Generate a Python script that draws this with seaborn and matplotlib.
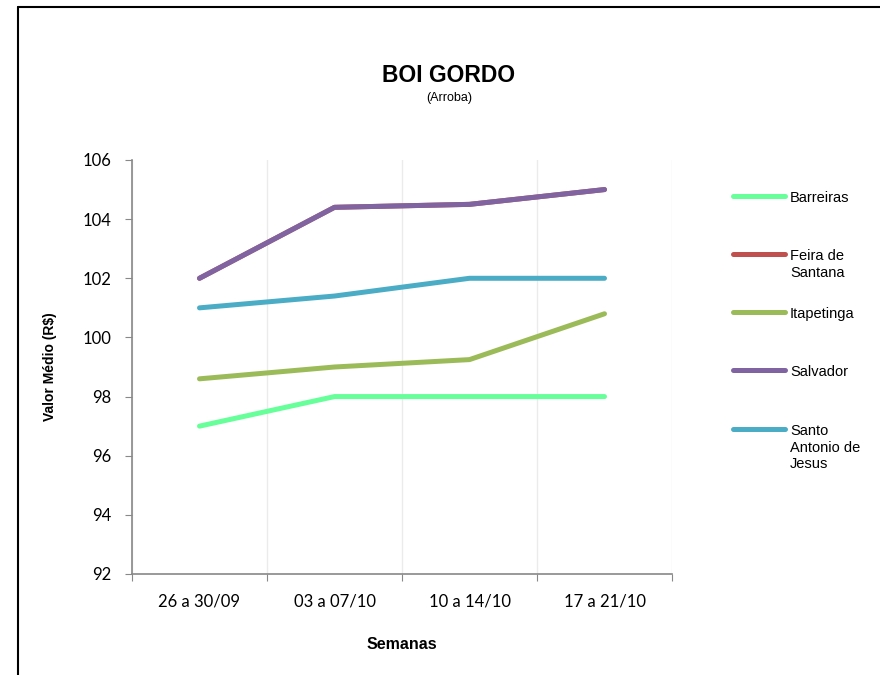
import numpy as np
import pandas as pd
import seaborn as sns
import matplotlib.pyplot as plt
from matplotlib.lines import Line2D

# Data
semanas = ["26 a 30/09", "03 a 07/10", "10 a 14/10", "17 a 21/10"]
barreiras = [97.0, 98.0, 98.0, 98.0]
feira_de_santana = [102.0, 104.4, 104.5, 105.0]
itapetinga = [98.6, 99.0, 99.25, 100.8]
salvador = [102.0, 104.4, 104.5, 105.0]
santo_antonio = [101.0, 101.4, 102.0, 102.0]

series_names = ["Barreiras", "Feira de Santana", "Itapetinga", "Salvador",
                "Santo Antonio de Jesus"]
legend_labels = ["Barreiras", "Feira de\nSantana", "Itapetinga", "Salvador",
                 "Santo\nAntonio de\nJesus"]
y_ticks = [92, 94, 96, 98, 100, 102, 104, 106]

palette = {
    "Barreiras": "#66FF99",
    "Feira de Santana": "#C0504D",
    "Itapetinga": "#9BBB59",
    "Salvador": "#8064A2",
    "Santo Antonio de Jesus": "#4BACC6",
}

df = pd.DataFrame({
    "Semana": semanas * len(series_names),
    "Valor": barreiras + feira_de_santana + itapetinga + salvador + santo_antonio,
    "Cidade": np.repeat(series_names, len(semanas)),
})

sns.set_style("white")
plt.rcParams["font.family"] = ["Liberation Sans", "DejaVu Sans"]
plt.rcParams["text.color"] = "black"
plt.rcParams["axes.labelcolor"] = "black"
plt.rcParams["xtick.color"] = "black"
plt.rcParams["ytick.color"] = "black"

fig = plt.figure(figsize=(8.8, 6.75), dpi=100)
ax = fig.add_axes([132 / 880, 101 / 675, 540 / 880, 414 / 675])

sns.lineplot(
    data=df, x="Semana", y="Valor", hue="Cidade", hue_order=series_names,
    palette=palette, linewidth=3.6, legend=False, ax=ax, sort=False,
    solid_capstyle="round", solid_joinstyle="round",
)

# Axes ranges and ticks
ax.set_xlim(-0.5, len(semanas) - 0.5)
ax.set_ylim(92, 106)
ax.set_yticks(y_ticks)
ax.set_yticklabels([str(v) for v in y_ticks], fontfamily="Lato", fontsize=12)
ax.set_xticks(np.arange(-0.5, len(semanas)), labels=[""] * (len(semanas) + 1))
ax.set_xticks(np.arange(len(semanas)), minor=True)
ax.set_xticklabels(semanas, minor=True, fontfamily="Lato", fontsize=12)
ax.tick_params(axis="x", which="minor", bottom=False, length=0, pad=14)
ax.tick_params(axis="x", which="major", bottom=True, length=5,
               color="#888888", direction="out")
ax.tick_params(axis="y", left=True, length=5, color="#888888",
               direction="out", pad=10)

# Grid and spines
ax.xaxis.grid(True, which="major", color="#EBEBEB", linewidth=1)
ax.yaxis.grid(False)
for side in ["top", "right"]:
    ax.spines[side].set_visible(False)
for side in ["left", "bottom"]:
    ax.spines[side].set_color("#888888")
    ax.spines[side].set_linewidth(1.2)

ax.set_xlabel("Semanas", fontsize=11.5, fontweight="bold", labelpad=20)
ax.set_ylabel("Valor Médio (R$)", fontsize=10, fontweight="bold", labelpad=18)

# Titles
fig.text(449 / 880, 1 - 75 / 675, "BOI GORDO", ha="center", va="center",
         fontsize=16.5, fontweight="bold")
fig.text(449 / 880, 1 - 98 / 675, "(Arroba)", ha="center", va="center",
         fontsize=9)

# Legend drawn at the right side
legend_y = [196, 254, 312, 370, 429]
for name, label, y in zip(series_names, legend_labels, legend_y):
    fig.add_artist(Line2D([733 / 880, 785 / 880], [1 - y / 675, 1 - y / 675],
                          color=palette[name], linewidth=3.6,
                          solid_capstyle="round", transform=fig.transFigure))
    fig.text(790 / 880, 1 - (y - 5) / 675, label, ha="left", va="top",
             fontsize=10.5, linespacing=1.25)

# Outer frame (top and left edges only, as in the source image)
fig.add_artist(Line2D([18 / 880, 1.0], [1 - 7 / 675, 1 - 7 / 675],
                      color="black", linewidth=1.5, transform=fig.transFigure))
fig.add_artist(Line2D([18 / 880, 18 / 880], [0.0, 1 - 7 / 675],
                      color="black", linewidth=1.5, transform=fig.transFigure))

fig.savefig("out.png", dpi=100, facecolor="white")
